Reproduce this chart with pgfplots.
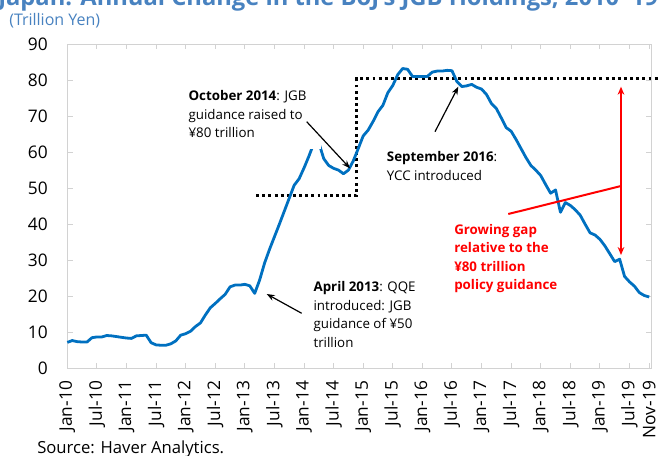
\documentclass[border=0pt]{standalone}
\usepackage{fontspec}
\setmainfont{Open Sans}
\usepackage{graphicx}
\usepackage{pgfplots}
\pgfplotsset{compat=1.18}
\usetikzlibrary{arrows.meta,calc}

\definecolor{lineblue}{RGB}{0,112,192}
\definecolor{titleblue}{RGB}{72,130,192}
\definecolor{framegray}{RGB}{210,210,210}

% monthly values, Jan-10 = 0
\pgfplotstableread{
m v
0 7.2
1 7.7
2 7.4
3 7.3
4 7.3
5 8.5
6 8.7
7 8.7
8 9.1
9 9.0
10 8.8
11 8.6
12 8.4
13 8.3
14 9.0
15 9.1
16 9.2
17 7.1
18 6.5
19 6.4
20 6.4
21 6.8
22 7.6
23 9.2
24 9.6
25 10.3
26 11.6
27 12.6
28 14.8
29 16.8
30 18.0
31 19.3
32 20.5
33 22.6
34 23.1
35 23.1
36 23.3
37 22.9
38 20.8
39 24.5
40 29.2
41 33.0
42 36.5
43 40.0
44 43.6
45 47.2
46 50.8
47 52.6
48 55.6
49 58.9
50 62.5
51 62.6
52 58.2
53 56.3
54 55.5
55 55.0
56 54.0
57 55.0
58 57.6
59 61.0
60 64.5
61 66.1
62 68.5
63 71.2
64 73.0
65 76.5
66 78.5
67 81.5
68 83.2
69 83.0
70 81.0
71 81.0
72 81.0
73 81.0
74 82.2
75 82.5
76 82.5
77 82.7
78 82.6
79 79.6
80 78.2
81 78.4
82 78.8
83 78.0
84 77.5
85 76.0
86 73.5
87 72.1
88 69.5
89 66.8
90 65.8
91 63.5
92 61.0
93 58.5
94 56.3
95 55.0
96 53.5
97 51.0
98 48.6
99 49.5
100 43.3
101 46.0
102 45.2
103 44.0
104 42.5
105 40.0
106 37.6
107 37.0
108 35.8
109 34.0
110 31.8
111 29.6
112 30.3
113 25.5
114 24.0
115 22.8
116 21.0
117 20.2
118 19.8
}\jgb

\begin{document}
\begin{tikzpicture}
\begin{axis}[
  name=ax, at={(0,0)}, anchor=south west,
  scale only axis, width=438.3pt, height=243.2pt,
  xmin=0, xmax=118.5, ymin=0, ymax=90,
  xtick={0,6,...,114,118},
  xticklabels={Jan-10,Jul-10,Jan-11,Jul-11,Jan-12,Jul-12,Jan-13,Jul-13,Jan-14,Jul-14,
    Jan-15,Jul-15,Jan-16,Jul-16,Jan-17,Jul-17,Jan-18,Jul-18,Jan-19,Jul-19,Nov-19},
  ytick={0,10,...,90},
  tick align=inside, major tick length=4pt,
  tick style={framegray, line width=0.75pt},
  axis line style={framegray, line width=0.75pt},
  /pgf/number format/assume math mode=true,
  ticklabel style={font=\fontsize{13}{15}\selectfont, text=black},
  xticklabel style={yshift=-9.3pt, rotate=90, anchor=east, inner sep=0pt},
  yticklabel style={inner sep=0pt, xshift=-14.5pt},
  clip=false,
]
  % guidance levels (50 then 80 trillion)
  \addplot[black, line width=2.2pt, dash pattern=on 2.2pt off 2.4pt]
    coordinates {(38.3,48) (58.7,48) (58.7,80.4) (120.3,80.4)};
  \addplot[lineblue, line width=2.1pt, line join=round] table[x=m, y=v] {\jgb};
\end{axis}

% annotations in reference pixel units (origin at top left)
\begin{scope}[shift={($(ax.south west)+(-50.475pt,276.225pt)$)}, x=0.75pt, y=-0.75pt]
  % text box of the October 2014 note hides the top of the line
  \fill[white] (186,84) rectangle (320.5,148.6);

  \node[anchor=base west, inner sep=0, text=titleblue] at (-2,5)
    {\resizebox{495pt}{!}{\bfseries Japan: Annual Change in the BoJ’s JGB Holdings, 2010--19}};
  \node[anchor=base west, inner sep=0, text=titleblue, font=\fontsize{12}{14}\selectfont]
    at (9,25) {(Trillion Yen)};
  \node[anchor=base west, inner sep=0, font=\fontsize{12.5}{14}\selectfont]
    at (37,453) {Source: Haver Analytics.};

  \begin{scope}[every node/.style={anchor=base west, inner sep=0, font=\fontsize{10}{12}\selectfont}]
    \node at (188.3,100.7) {\textbf{October 2014}: JGB};
    \node at (188.3,119.2) {guidance raised to};
    \node at (188.3,137.7) {¥80 trillion};
    \node at (386.7,161.7) {\textbf{September 2016}:};
    \node at (386.7,180.2) {YCC introduced};
    \node at (313.3,291.7) {\textbf{April 2013}: QQE};
    \node at (313.3,310.2) {introduced: JGB};
    \node at (313.3,328.7) {guidance of ¥50};
    \node at (313.3,347.2) {trillion};
  \end{scope}
  \begin{scope}[every node/.style={anchor=base west, inner sep=0, text=red, font=\fontsize{10}{12}\selectfont\bfseries}]
    \node at (454,234) {Growing gap};
    \node at (454,252.5) {relative to the};
    \node at (454,271) {¥80 trillion};
    \node at (454,289.5) {policy guidance};
  \end{scope}

  \draw[black, line width=0.9pt, -{Stealth[length=6pt,width=4.5pt]}] (306.7,121.7) -- (350,168.3);
  \draw[black, line width=0.9pt, -{Stealth[length=6pt,width=4.5pt]}] (435,131.7) -- (458.3,86.7);
  \draw[black, line width=0.9pt, -{Stealth[length=6pt,width=4.5pt]}] (301.7,313.3) -- (266.7,294);
  \draw[red, line width=1.5pt, {Stealth[length=6pt,width=5pt]}-{Stealth[length=6pt,width=5pt]}] (621,86.7) -- (621,255);
  \draw[red, line width=1.5pt] (508.3,214) -- (621,186);

  \pgfresetboundingbox
  \path[use as bounding box] (0,0) rectangle (658,455);
\end{scope}
\end{tikzpicture}
\end{document}
